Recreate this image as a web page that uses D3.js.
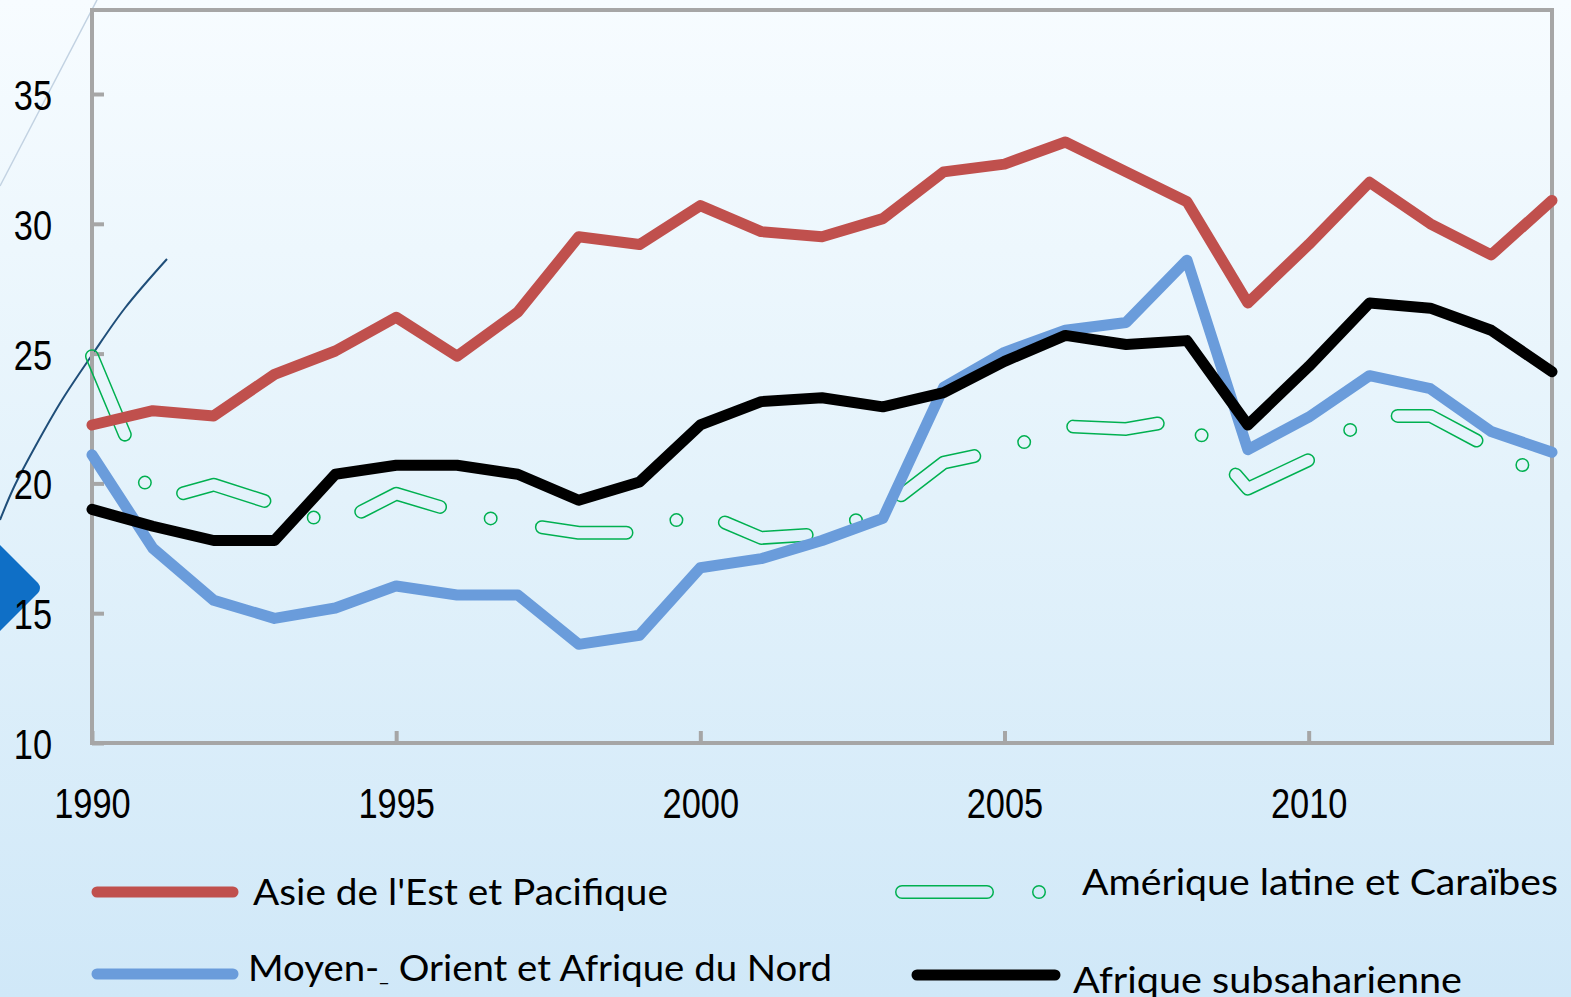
<!DOCTYPE html>
<html>
<head>
<meta charset="utf-8">
<script src="https://cdn.jsdelivr.net/npm/d3@7"></script>
<style>
  html, body { margin: 0; padding: 0; background: #d2e9f8; }
  svg { display: block; }
</style>
</head>
<body>
<svg id="chart" width="1571" height="997"></svg>
<script>
const years = d3.range(1990, 2015);
const eastAsia = [22.25, 22.8, 22.6, 24.2, 25.1, 26.4, 24.9, 26.6, 29.5, 29.2, 30.7, 29.7, 29.5, 30.2, 32.0, 32.3, 33.15, 32.0, 30.85, 26.95, 29.2, 31.6, 30.0, 28.8, 30.9];
const mena = [21.1, 17.5, 15.5, 14.8, 15.2, 16.05, 15.7, 15.7, 13.8, 14.15, 16.75, 17.1, 17.8, 18.65, 23.7, 25.05, 25.9, 26.2, 28.6, 21.3, 22.55, 24.15, 23.65, 22.0, 21.2];
const latAm = [24.9, 19.3, 19.95, 19.2, 18.4, 19.6, 18.9, 18.45, 18.1, 18.1, 18.9, 17.9, 18.05, 19.0, 20.8, 21.3, 22.2, 22.1, 22.5, 19.8, 20.9, 22.6, 22.6, 21.35, 20.1];
const ssa = [19.0, 18.35, 17.8, 17.8, 20.35, 20.7, 20.7, 20.35, 19.35, 20.05, 22.25, 23.15, 23.3, 22.95, 23.5, 24.7, 25.7, 25.35, 25.5, 22.25, 24.5, 26.95, 26.75, 25.9, 24.3];
const yTicks = [10, 15, 20, 25, 30, 35];
const xTicks = [1990, 1995, 2000, 2005, 2010];
const names = {
  eastAsia: "Asie de l'Est et Pacifique",
  latAm: "Amérique latine et Caraïbes",
  menaA: "Moyen-",
  menaB: "_",
  menaC: " Orient et Afrique du Nord",
  ssa: "Afrique subsaharienne"
};

const svg = d3.select("#chart");
const W = 1571, H = 997;
const pLeft = 92, pRight = 1552, pTop = 10, pBottom = 743;
const narrow = 0.8;

const x = d3.scaleLinear().domain([1990, 2014]).range([pLeft, pRight]);
const y = d3.scaleLinear().domain([10, 35]).range([pBottom, 94]);

const defs = svg.append("defs");
const grad = defs.append("linearGradient").attr("id", "bg")
  .attr("x1", 0).attr("y1", 0).attr("x2", 0).attr("y2", 1);
grad.append("stop").attr("offset", "0%").attr("stop-color", "#f7fcff");
grad.append("stop").attr("offset", "50%").attr("stop-color", "#e3f2fb");
grad.append("stop").attr("offset", "100%").attr("stop-color", "#d0e8f8");

svg.append("rect").attr("width", W).attr("height", H).attr("fill", "url(#bg)");

// decorative shapes on the left
svg.append("line").attr("x1", 97).attr("y1", 0).attr("x2", 0).attr("y2", 186)
  .attr("stroke", "#c2d2e2").attr("stroke-width", 1.5);
const decoCurve = [[167, 259], [125, 308], [92, 355], [62, 400], [35, 447], [14, 487], [0, 520]];
svg.append("path").attr("d", d3.line().curve(d3.curveCatmullRom)(decoCurve))
  .attr("fill", "none").attr("stroke", "#1f4e79").attr("stroke-width", 2);
svg.append("path").attr("d", "M0,545 L38,583 Q42,588 38,593 L0,631 Z").attr("fill", "#0f6fc6");

// plot frame
svg.append("rect").attr("x", pLeft).attr("y", pTop).attr("width", pRight - pLeft).attr("height", pBottom - pTop)
  .attr("fill", "none").attr("stroke", "#a6a6a6").attr("stroke-width", 4);

// axes
const tickFont = "'Liberation Sans Narrow', 'Arial Narrow', 'Liberation Sans', Arial, sans-serif";
const yAxis = svg.append("g").attr("transform", `translate(${pLeft},0)`)
  .call(d3.axisLeft(y).tickValues(yTicks).tickSize(-12).tickPadding(40).tickFormat(d3.format("d")));
yAxis.select(".domain").remove();
yAxis.selectAll("line").attr("stroke", "#a6a6a6").attr("stroke-width", 4);
yAxis.selectAll("text").attr("font-family", tickFont)
  .attr("font-size", 43).attr("fill", "#000").attr("dy", "0.36em")
  .attr("x", -40 / narrow).attr("transform", `scale(${narrow},1)`);

const xAxis = svg.append("g").attr("transform", `translate(0,${pBottom})`)
  .call(d3.axisBottom(x).tickValues(xTicks).tickSize(-12).tickPadding(44).tickFormat(d3.format("d")));
xAxis.select(".domain").remove();
xAxis.selectAll("line").attr("stroke", "#a6a6a6").attr("stroke-width", 4);
xAxis.selectAll("text").attr("font-family", tickFont)
  .attr("font-size", 43).attr("fill", "#000").attr("dy", "0.71em")
  .attr("transform", `scale(${narrow},1)`);

const line = d3.line().x((d, i) => x(years[i])).y(d => y(d));

// outlined dash-dot line for Latin America via mask
const dashPattern = "85,52,0,52";
function outlinedDash(pathD, id) {
  const m = defs.append("mask").attr("id", id).attr("maskUnits", "userSpaceOnUse")
    .attr("x", 0).attr("y", 0).attr("width", W).attr("height", H);
  m.append("path").attr("d", pathD).attr("fill", "none").attr("stroke", "#fff")
    .attr("stroke-width", 14).attr("stroke-linecap", "round").attr("stroke-linejoin", "round")
    .attr("stroke-dasharray", dashPattern);
  m.append("path").attr("d", pathD).attr("fill", "none").attr("stroke", "#000")
    .attr("stroke-width", 11).attr("stroke-linecap", "round").attr("stroke-linejoin", "round")
    .attr("stroke-dasharray", dashPattern);
  svg.append("rect").attr("width", W).attr("height", H).attr("fill", "#00b050")
    .attr("mask", `url(#${id})`);
}
outlinedDash(line(latAm), "latMask");

const series = [
  { data: eastAsia, color: "#c0504d" },
  { data: mena, color: "#6a9cdb" },
  { data: ssa, color: "#000000" }
];
series.forEach(s => {
  svg.append("path").attr("d", line(s.data)).attr("fill", "none")
    .attr("stroke", s.color).attr("stroke-width", 11)
    .attr("stroke-linejoin", "round").attr("stroke-linecap", "round");
});

// legend
const legFont = "Lato, 'Open Sans', sans-serif";
function legLine(x1, x2, yy, color) {
  svg.append("line").attr("x1", x1).attr("x2", x2).attr("y1", yy).attr("y2", yy)
    .attr("stroke", color).attr("stroke-width", 11).attr("stroke-linecap", "round");
}
legLine(97, 233, 892, "#c0504d");
legLine(97, 233, 974, "#6a9cdb");
legLine(917, 1055, 975, "#000000");
outlinedDash(`M902,892 L1040,892`, "legMask");

svg.append("text").attr("x", 253).attr("y", 905).attr("font-family", legFont).attr("font-size", 37)
  .attr("textLength", 415).attr("lengthAdjust", "spacingAndGlyphs").text(names.eastAsia);
const t2 = svg.append("text").attr("x", 248).attr("y", 981).attr("font-family", legFont).attr("font-size", 37)
  .attr("textLength", 584).attr("lengthAdjust", "spacingAndGlyphs");
t2.append("tspan").text(names.menaA);
t2.append("tspan").attr("font-size", 20).text(names.menaB);
t2.append("tspan").text(names.menaC);
svg.append("text").attr("x", 1082).attr("y", 895).attr("font-family", legFont).attr("font-size", 37)
  .attr("textLength", 476).attr("lengthAdjust", "spacingAndGlyphs").text(names.latAm);
svg.append("text").attr("x", 1073).attr("y", 993).attr("font-family", legFont).attr("font-size", 37)
  .attr("textLength", 389).attr("lengthAdjust", "spacingAndGlyphs").text(names.ssa);
</script>
</body>
</html>
